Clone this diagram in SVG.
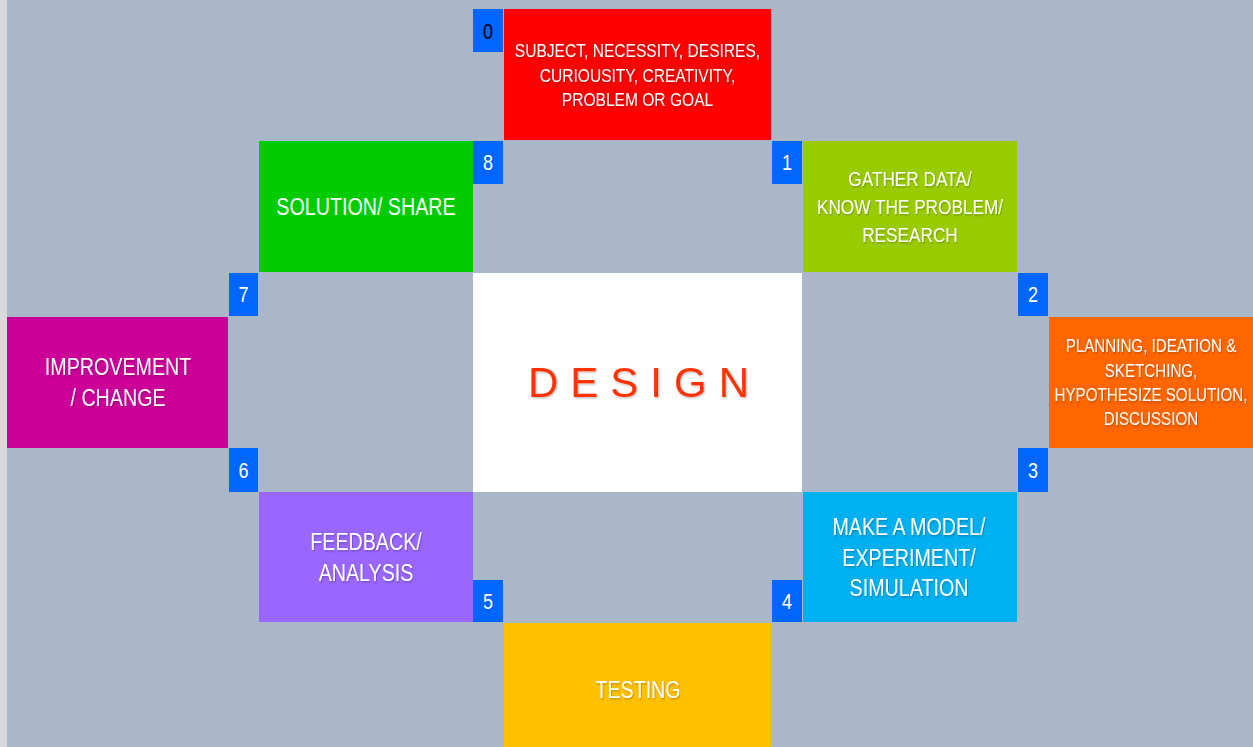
<svg xmlns="http://www.w3.org/2000/svg" width="1253" height="747" viewBox="0 0 1253 747">
<defs>
<filter id="sh" x="-10%" y="-20%" width="130%" height="150%">
<feDropShadow dx="1" dy="1.2" stdDeviation="0.8" flood-color="#000" flood-opacity="0.28"/>
</filter>
</defs>
<style>
.t{font-family:"Liberation Sans",Arial,sans-serif;fill:#fff;text-anchor:middle;filter:url(#sh)}
.n{font-family:"Liberation Sans",Arial,sans-serif;fill:#fff;text-anchor:middle;font-size:22px}
.nb{fill:#0066FF}
</style>
<rect x="0" y="0" width="1253" height="747" fill="#AAB7C8"/>
<rect x="0" y="0" width="7" height="747" fill="#D9D9D9"/>

<g id="center">
<rect x="473" y="273" width="329" height="219" fill="#FFFFFF"/>
<text x="528" y="397" font-family="Liberation Sans,Arial,sans-serif" font-size="42" letter-spacing="12" fill="#FF3300" filter="url(#sh)">DESIGN</text>
</g>

<g id="step0">
<rect x="504" y="9" width="267" height="131" fill="#FF0000"/>
<text class="t" font-size="19" transform="translate(637.5 0) scale(0.82 1)"><tspan x="0" y="57">SUBJECT, NECESSITY, DESIRES,</tspan><tspan x="0" y="82">CURIOUSITY, CREATIVITY,</tspan><tspan x="0" y="106">PROBLEM OR GOAL</tspan></text>
<rect class="nb" x="473" y="9" width="30" height="43"/>
<text class="n" transform="translate(488 0) scale(0.82 1)" x="0" y="39" style="fill:#000">0</text>
</g>

<g id="step1">
<rect x="803" y="141" width="214" height="131" fill="#99CC00"/>
<text class="t" font-size="21" transform="translate(910 0) scale(0.82 1)"><tspan x="0" y="186">GATHER DATA/</tspan><tspan x="0" y="214">KNOW THE PROBLEM/</tspan><tspan x="0" y="242">RESEARCH</tspan></text>
<rect class="nb" x="772" y="141" width="30" height="43"/>
<text class="n" transform="translate(787 0) scale(0.82 1)" x="0" y="170">1</text>
</g>

<g id="step2">
<rect x="1049" y="317" width="204" height="131" fill="#FF6600"/>
<text class="t" font-size="18.5" transform="translate(1151 0) scale(0.82 1)"><tspan x="0" y="352">PLANNING, IDEATION &amp;</tspan><tspan x="0" y="377">SKETCHING,</tspan><tspan x="0" y="401">HYPOTHESIZE SOLUTION,</tspan><tspan x="0" y="425">DISCUSSION</tspan></text>
<rect class="nb" x="1018" y="273" width="30" height="43"/>
<text class="n" transform="translate(1033 0) scale(0.82 1)" x="0" y="302">2</text>
</g>

<g id="step3">
<rect class="nb" x="1018" y="448" width="30" height="44"/>
<text class="n" transform="translate(1033 0) scale(0.82 1)" x="0" y="478">3</text>
</g>

<g id="step4">
<rect x="803" y="492" width="214" height="130" fill="#00B0F0"/>
<text class="t" font-size="24" transform="translate(909 0) scale(0.82 1)"><tspan x="0" y="535">MAKE A MODEL/</tspan><tspan x="0" y="566">EXPERIMENT/</tspan><tspan x="0" y="596">SIMULATION</tspan></text>
<rect class="nb" x="772" y="580" width="30" height="42"/>
<text class="n" transform="translate(787 0) scale(0.82 1)" x="0" y="609">4</text>
</g>

<g id="step5">
<rect x="504" y="623" width="267" height="124" fill="#FFC000"/>
<text class="t" font-size="24" transform="translate(638 0) scale(0.82 1)" x="0" y="698">TESTING</text>
<rect class="nb" x="473" y="580" width="30" height="42"/>
<text class="n" transform="translate(488 0) scale(0.82 1)" x="0" y="609">5</text>
</g>

<g id="step6">
<rect x="259" y="492" width="214" height="130" fill="#9966FF"/>
<text class="t" font-size="24" transform="translate(366 0) scale(0.82 1)"><tspan x="0" y="550">FEEDBACK/</tspan><tspan x="0" y="581">ANALYSIS</tspan></text>
<rect class="nb" x="229" y="448" width="29" height="44"/>
<text class="n" transform="translate(243.5 0) scale(0.82 1)" x="0" y="478">6</text>
</g>

<g id="step7">
<rect x="7" y="317" width="221" height="131" fill="#CC0099"/>
<text class="t" font-size="24" transform="translate(118 0) scale(0.82 1)"><tspan x="0" y="375">IMPROVEMENT</tspan><tspan x="0" y="406">/ CHANGE</tspan></text>
<rect class="nb" x="229" y="273" width="29" height="43"/>
<text class="n" transform="translate(243.5 0) scale(0.82 1)" x="0" y="302">7</text>
</g>

<g id="step8">
<rect x="259" y="141" width="214" height="131" fill="#00CC00"/>
<text class="t" font-size="24" transform="translate(366 0) scale(0.82 1)" x="0" y="215" style="filter:none">SOLUTION/ SHARE</text>
<rect class="nb" x="473" y="141" width="30" height="43"/>
<text class="n" transform="translate(488 0) scale(0.82 1)" x="0" y="170">8</text>
</g>
</svg>
